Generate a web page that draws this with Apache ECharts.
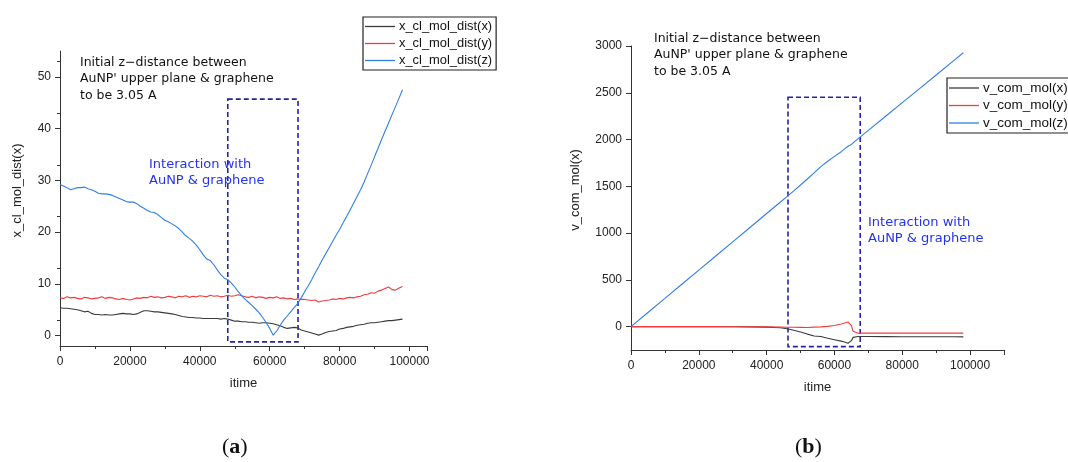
<!DOCTYPE html>
<html>
<head>
<meta charset="utf-8">
<script src="https://cdn.jsdelivr.net/npm/echarts@6/dist/echarts.min.js"></script>
<style>
html,body{margin:0;padding:0;background:#fff;overflow:hidden;width:1068px;height:462px;}
#chart{width:1110px;height:462px;}
</style>
</head>
<body>
<div id="chart"></div>
<script>
// ---------- Data: panel (a) ----------
const itimeA = [];
for (let i = 0; i <= 98; i++) itimeA.push(i * 1000); // sample times 0..98000
const distX = [5.4,5.3,5.3,5.2,5.1,5.0,4.8,4.6,4.7,4.3,4.1,
  4.1,4.0,4.1,4.0,4.0,4.1,4.2,4.3,4.2,4.2,
  4.1,4.2,4.5,4.8,4.8,4.7,4.6,4.6,4.5,4.4,
  4.3,4.2,4.1,3.9,3.7,3.6,3.5,3.5,3.4,3.4,
  3.3,3.3,3.3,3.3,3.3,3.2,3.3,3.2,3.0,2.8,
  2.8,2.7,2.7,2.6,2.6,2.5,2.4,2.5,2.5,2.4,
  2.3,2.1,1.9,1.6,1.4,1.5,1.6,1.5,1.1,0.9,
  0.7,0.5,0.3,0.1,0.3,0.6,0.8,0.9,1.0,1.3,
  1.4,1.6,1.7,1.8,2.0,2.1,2.2,2.4,2.5,2.5,
  2.6,2.7,2.8,2.9,2.9,3.0,3.1,3.2];
const distY = [7.3,7.2,7.5,7.3,7.4,7.2,7.1,7.4,7.3,7.1,7.2,
  7.3,7.5,7.2,7.4,7.3,7.1,7.0,7.2,7.0,6.9,
  7.1,7.3,7.2,7.4,7.3,7.6,7.4,7.5,7.3,7.4,
  7.6,7.5,7.3,7.6,7.5,7.7,7.4,7.6,7.5,7.7,
  7.6,7.5,7.8,7.6,7.7,7.5,7.6,7.8,7.6,7.7,
  7.9,7.7,7.5,7.4,7.6,7.3,7.5,7.4,7.2,7.4,
  7.3,7.5,7.2,7.3,7.1,7.2,7.0,7.1,7.0,7.0,
  6.9,6.8,6.9,6.5,6.7,6.8,6.9,7.1,7.0,7.2,
  7.1,7.3,7.4,7.3,7.5,7.6,7.9,8.0,8.3,8.2,
  8.6,8.8,9.1,9.4,8.9,8.8,9.2,9.5];
const distZ = [29.2,28.9,28.6,28.2,28.4,28.6,28.6,28.7,28.4,28.2,27.9,
  27.5,27.4,27.4,27.3,27.1,26.8,26.5,26.2,25.9,25.8,
  25.8,25.5,25.0,24.6,24.2,23.9,23.8,23.4,22.8,22.3,
  22.0,21.6,21.2,20.7,20.0,19.3,18.8,18.2,17.5,16.6,
  15.6,14.8,14.5,13.7,12.7,11.8,11.1,10.8,10.2,9.4,
  8.5,7.7,7.0,6.4,5.8,5.1,4.4,3.5,2.5,1.4,
  0.1,0.9,2.0,3.0,3.8,4.6,5.4,6.2,7.3,8.5,
  9.6,10.8,12.1,13.3,14.6,15.8,17.0,18.2,19.4,20.5,
  21.8,23.0,24.3,25.6,26.9,28.2,29.7,31.3,32.9,34.6,
  36.2,37.9,39.5,41.1,42.7,44.3,45.9,47.5];
const namesA = ['x_cl_mol_dist(x)','x_cl_mol_dist(y)','x_cl_mol_dist(z)'];
const boxA = [[48000, 45.7], [68100, -1.2]];

// ---------- Data: panel (b) ----------
const itimeB = [0,5000,10000,15000,20000,25000,30000,35000,40000,44000,46000,48000,50000,52000,54000,56000,58000,60000,62000,63000,64000,64500,65000,65500,66000,67000,70000,75000,80000,85000,90000,95000,98000];
const comX = [0,0,0,0,0,-1,-2,-3,-5,-12,-22,-38,-58,-80,-100,-106,-125,-140,-155,-165,-178,-180,-150,-115,-108,-106,-106,-107,-108,-108,-108,-109,-110];
const comY = [0,0,0,0,0,0,-1,-2,-3,-5,-6,-7,-8,-9,-5,-3,3,12,28,38,50,52,10,-50,-68,-70,-70,-70,-70,-70,-70,-70,-70];
const comZ = [0,151,302,453,604,755,906,1057,1209,1330,1390,1452,1514,1578,1644,1711,1768,1820,1870,1900,1928,1940,1948,1962,1980,2010,2098,2246,2394,2542,2690,2838,2928];
const namesB = ['v_com_mol(x)','v_com_mol(y)','v_com_mol(z)'];
const boxB = [[46300, 2452], [67600, -214]];

// ---------- Ticks ----------
const yTicksA = [0,10,20,30,40,50];
const yTicksB = [0,500,1000,1500,2000,2500,3000];

const colors = ['#3a3a3a', '#f03c3c', '#2f7fe8'];
const FONT = "'Liberation Sans', Arial, sans-serif";
const NOTEFONT = "'DejaVu Sans', sans-serif";

function pairs(xs, ys){ return xs.map((x,i)=>[x, ys[i]]); }
const plain = v => String(v);

function xAxisCfg(gi, max){
  return {
    gridIndex: gi, type: 'value', min: 0, max: max, interval: 20000,
    name: 'itime', nameLocation: 'middle', nameGap: 31,
    nameTextStyle: {fontFamily: FONT, fontSize: 13, color: '#222'},
    axisLine: {show: true, onZero: false, lineStyle: {color: '#333', width: 1}},
    axisTick: {show: true, inside: false, length: 5, lineStyle: {color: '#333'}},
    minorTick: {show: true, splitNumber: 2, length: 3, lineStyle: {color: '#333'}},
    axisLabel: {fontFamily: FONT, fontSize: 12, color: '#222', margin: 10, showMaxLabel: false, formatter: plain},
    splitLine: {show: false}
  };
}
function yAxisCfg(gi, min, max, interval, ticks, name, gap){
  return {
    gridIndex: gi, type: 'value', min: min, max: max, interval: interval,
    name: name, nameLocation: 'middle', nameGap: gap,
    nameTextStyle: {fontFamily: FONT, fontSize: 13, color: '#222', padding: [0, 0, 0, 16]},
    axisLine: {show: true, onZero: false, lineStyle: {color: '#333', width: 1}},
    axisTick: {show: true, inside: false, length: 5, lineStyle: {color: '#333'}, customValues: ticks},
    minorTick: {show: true, splitNumber: 2, length: 3, lineStyle: {color: '#333'}},
    axisLabel: {fontFamily: FONT, fontSize: 12, color: '#222', margin: 9, customValues: ticks, formatter: plain},
    splitLine: {show: false}
  };
}
function lineSeries(name, xi, data, color, box){
  const s = {
    name: name, type: 'line', xAxisIndex: xi, yAxisIndex: xi,
    data: data, showSymbol: false, symbol: 'none', smooth: false,
    lineStyle: {color: color, width: 1.1}, itemStyle: {color: color},
    animation: false, silent: true
  };
  if (box) {
    s.markArea = {
      silent: true,
      label: {show: false},
      itemStyle: {color: 'rgba(0,0,0,0)', borderColor: '#2424a8', borderWidth: 1.6, borderType: [5, 3]},
      data: [[{coord: box[0]}, {coord: box[1]}]]
    };
  }
  return s;
}
function legendCfg(names, left, top, fs, gap){
  return {
    data: names, orient: 'vertical', left: left, top: top,
    itemWidth: 30, itemHeight: 1.3, icon: 'rect', itemGap: gap,
    padding: [3, 4, 3, 2], borderColor: '#222', borderWidth: 1.2,
    backgroundColor: '#fff',
    textStyle: {fontFamily: FONT, fontSize: fs, color: '#111', padding: [0,0,0,-1]}
  };
}

const chart = echarts.init(document.getElementById('chart'), null, {renderer: 'canvas'});
const note = "Initial z\u2212distance between\nAuNP' upper plane & graphene\nto be 3.05 A";
const blueNote = "Interaction with\nAuNP & graphene";
chart.setOption({
  animation: false,
  backgroundColor: '#fff',
  grid: [
    {left: 60, top: 51, width: 367, height: 295},
    {left: 631, top: 46, width: 373, height: 304}
  ],
  xAxis: [xAxisCfg(0, 105000), xAxisCfg(1, 110000)],
  yAxis: [
    yAxisCfg(0, -2, 55, 10, yTicksA, 'x_cl_mol_dist(x)', 36),
    yAxisCfg(1, -250, 3000, 500, yTicksB, 'v_com_mol(x)', 49)
  ],
  legend: [legendCfg(namesA, 363, 17, 12.9, 4), legendCfg(namesB, 947, 78, 13.5, 3.5)],
  series: [
    lineSeries(namesA[0], 0, pairs(itimeA, distX), colors[0]),
    lineSeries(namesA[1], 0, pairs(itimeA, distY), colors[1]),
    lineSeries(namesA[2], 0, pairs(itimeA, distZ), colors[2], boxA),
    lineSeries(namesB[0], 1, pairs(itimeB, comX), colors[0]),
    lineSeries(namesB[1], 1, pairs(itimeB, comY), colors[1]),
    lineSeries(namesB[2], 1, pairs(itimeB, comZ), colors[2], boxB)
  ],
  graphic: [
    {type: 'text', left: 80, top: 54, z: 10, style: {text: note, fontFamily: NOTEFONT, fontSize: 12.5, lineHeight: 16.7, fill: '#111'}},
    {type: 'text', left: 654, top: 30, z: 10, style: {text: note, fontFamily: NOTEFONT, fontSize: 12.5, lineHeight: 16.7, fill: '#111'}},
    {type: 'text', left: 149, top: 156, z: 10, style: {text: blueNote, fontFamily: NOTEFONT, fontSize: 13, lineHeight: 16.7, fill: '#2233ee'}},
    {type: 'text', left: 868, top: 214, z: 10, style: {text: blueNote, fontFamily: NOTEFONT, fontSize: 13, lineHeight: 16.7, fill: '#2233ee'}},
    {type: 'text', left: 222, top: 436, z: 10, style: {text: '{p|(}{b|a}{p|)}', rich: {p: {fontFamily: "'Liberation Serif', serif", fontSize: 22, fill: '#111'}, b: {fontFamily: "'Liberation Serif', serif", fontSize: 22, fontWeight: 'bold', fill: '#111'}}}},
    {type: 'text', left: 795, top: 436, z: 10, style: {text: '{p|(}{b|b}{p|)}', rich: {p: {fontFamily: "'Liberation Serif', serif", fontSize: 22, fill: '#111'}, b: {fontFamily: "'Liberation Serif', serif", fontSize: 22, fontWeight: 'bold', fill: '#111'}}}}
  ]
});
</script>
</body>
</html>
